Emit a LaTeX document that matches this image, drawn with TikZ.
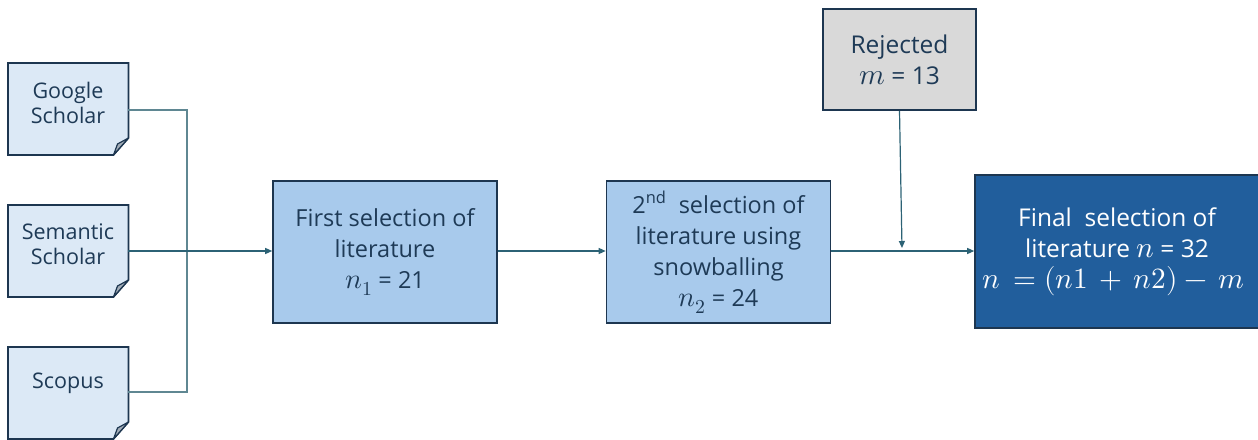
\documentclass[tikz,border=0pt]{standalone}
\usepackage{fontspec}
\usepackage{unicode-math}
\setmainfont{Open Sans}
\setmathfont{Latin Modern Math}[Scale=1.2]
\usetikzlibrary{arrows.meta,calc,backgrounds}
\definecolor{txt}{HTML}{1E3A56}
\definecolor{docfill}{HTML}{DCE9F6}
\definecolor{boxfill}{HTML}{A8CAEC}
\definecolor{bordc}{HTML}{1D3650}
\definecolor{finfill}{HTML}{215E9C}
\definecolor{rejfill}{HTML}{D9D9D9}
\definecolor{linec}{HTML}{2C6275}
\definecolor{linegray}{HTML}{5F8792}
\definecolor{foldc}{HTML}{A3ADB8}
\begin{document}
\begin{tikzpicture}[x=1pt,y=-1pt,
  box/.style={draw=bordc, line width=1.6pt, fill=boxfill, text=txt, align=center,
    font=\fontsize{23.5}{31}\selectfont, inner sep=0pt},
  doc/.style={minimum width=120pt, minimum height=92pt, text=txt, align=center,
    font=\fontsize{21.5}{25}\selectfont, inner sep=0pt},
  conn/.style={draw=linegray, line width=1.2pt},
  arr/.style={draw=linec, line width=1.2pt, -{Triangle[length=7pt,width=6pt]}}]
\useasboundingbox (0,0) rectangle (1258,439);

% documents
\node[doc] (gs) at (68,103) {Google\\Scholar};
\node[doc] (ss) at (68,244) {Semantic\\Scholar};
\node[doc] (sc) at (68,383) {Scopus};
\begin{scope}[on background layer]
\foreach \t in {63,205,347}{
  \coordinate (nw) at (8,\t);
  \coordinate (se) at (128.5,\t+92);
  \draw[draw=bordc, line width=1.6pt, fill=docfill, line join=miter]
    (nw) -- (nw -| se) -- ($(se)+(0,-17)$)
    -- ($(se)+(-15,0)$) -- (nw |- se) -- cycle;
  \draw[draw=bordc, line width=1.2pt, fill=foldc, line join=round]
    ($(se)+(0,-17)$) -- ($(se)+(-15,0)$)
    -- ($(se)+(-11,-11)$) -- cycle;
}
\end{scope}

% boxes
\node[box, minimum width=224pt, minimum height=142pt] (first) at (385,252)
  {First selection of\\literature\\$n_1$ = 21};
\node[box, minimum width=224pt, minimum height=142pt] (second) at (718.5,252)
  {2\textsuperscript{nd}\ \ selection of\\literature using\\snowballing\\$n_2$ = 24};
\node[box, fill=rejfill, minimum width=153pt, minimum height=101pt,
  font=\fontsize{24.5}{31}\selectfont] (rej) at (899.5,59.5)
  {Rejected\\$m$ = 13};
\node[box, fill=finfill, text=white, minimum width=284pt, minimum height=153pt,
  font=\fontsize{24.5}{31}\selectfont] (fin) at (1117,251.5)
  {Final\ \ selection of\\literature $n$ = 32\\$\kern-7pt n\,=(n1\,+\,n2)-\,m$};

% connectors
\coordinate (jx) at (187,251);
\draw[conn] (gs.east |- 0,110) -| (jx);
\draw[conn] (sc.east |- 0,392) -| (jx);
\draw[arr] (ss.east |- jx) -- (first.west |- jx);
\draw[arr] (first.east |- jx) -- (second.west |- jx);
\draw[arr] (second.east |- jx) -- (fin.west |- jx);
\coordinate (jr) at (902,248);
\draw[arr] (rej.south) -- (jr);
\end{tikzpicture}
\end{document}
